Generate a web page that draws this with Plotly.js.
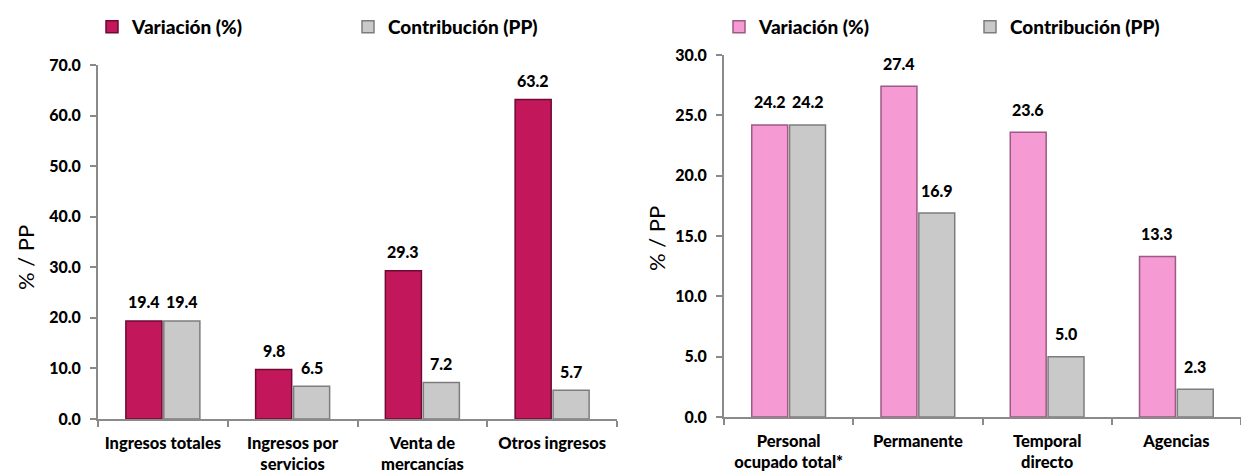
<!DOCTYPE html>
<html>
<head>
<meta charset="utf-8">
<script src="https://cdn.plot.ly/plotly-3.0.1.min.js"></script>
<style>
  html, body { margin:0; padding:0; background:#fff; }
  #chart { width:1241px; height:473px; }
</style>
</head>
<body>
<div id="chart"></div>
<script>
(function(){
  'use strict';

  // left panel: ingresos
  const ingresosCats = ['Ingresos totales', 'Ingresos por<br>servicios', 'Venta de<br>mercancías', 'Otros ingresos'];
  const ingresosVariacion = [19.4, 9.8, 29.3, 63.2];
  const ingresosContribucion = [19.4, 6.5, 7.2, 5.7];
  const ingresosTicks = [0, 10, 20, 30, 40, 50, 60, 70];

  // right panel: personal ocupado
  const personalCats = ['Personal<br>ocupado total*', 'Permanente', 'Temporal<br>directo', 'Agencias'];
  const personalVariacion = [24.2, 27.4, 23.6, 13.3];
  const personalContribucion = [24.2, 16.9, 5.0, 2.3];
  const personalTicks = [0, 5, 10, 15, 20, 25, 30];

  const seriesNames = ['Variación (%)', 'Contribución (PP)'];

  const FONT = 'Lato, "Open Sans", sans-serif';
  const AXIS_GREY = '#8a8a8a';

  function bar(name, cats, vals, xa, ya, color, line, legend){
    return {
      type:'bar', name, x:cats, y:vals, xaxis:xa, yaxis:ya,
      marker:{ color, line:{ color:line, width:1.5 } },
      legend, hoverinfo:'x+y'
    };
  }

  const traces = [
    bar(seriesNames[0], ingresosCats, ingresosVariacion, 'x', 'y', '#c2185b', '#6e0a33', 'legend'),
    bar(seriesNames[1], ingresosCats, ingresosContribucion, 'x', 'y', '#c9c9c9', '#7d7d7d', 'legend'),
    bar(seriesNames[0], personalCats, personalVariacion, 'x2', 'y2', '#f59ad2', '#9c5a84', 'legend2'),
    bar(seriesNames[1], personalCats, personalContribucion, 'x2', 'y2', '#c9c9c9', '#7d7d7d', 'legend2')
  ];

  // value labels above each bar
  const annotations = [];
  function labels(cats, vals, xref, yref, dx, dy){
    cats.forEach((c, i) => {
      annotations.push({
        x:c, y:vals[i], xref, yref, text:vals[i].toFixed(1), showarrow:false,
        xshift:dx, yshift:dy, yanchor:'middle',
        font:{ family:FONT, size:16, color:'#000', weight:900 }
      });
    });
  }
  labels(ingresosCats, ingresosVariacion, 'x', 'y', -19, 19);
  labels(ingresosCats, ingresosContribucion, 'x', 'y', 19, 19);
  labels(personalCats, personalVariacion, 'x2', 'y2', -19, 23);
  labels(personalCats, personalContribucion, 'x2', 'y2', 19, 23);

  // y axis titles
  annotations.push({ x:25/1241, y:1-258/473, xref:'paper', yref:'paper', text:'% / PP', textangle:-90,
    xanchor:'center', yanchor:'middle', showarrow:false, font:{ family:FONT, size:22, color:'#000' } });
  annotations.push({ x:657/1241, y:1-239/473, xref:'paper', yref:'paper', text:'% / PP', textangle:-90,
    xanchor:'center', yanchor:'middle', showarrow:false, font:{ family:FONT, size:22, color:'#000' } });

  const tickFont = { family:FONT, size:16, color:'#000', weight:900 };
  const catFont = { family:FONT, size:16.5, color:'#000', weight:900 };

  function yAxis(domain, ticks, anchor){
    return {
      domain, anchor, range:[0, ticks[ticks.length-1]], tickmode:'array', tickvals:ticks,
      ticktext:ticks.map(v => v.toFixed(1)), showgrid:false, zeroline:false,
      showline:true, linecolor:AXIS_GREY, linewidth:2, ticks:'outside', ticklen:6,
      tickcolor:AXIS_GREY, tickwidth:2, tickfont:tickFont, ticklabelstandoff:6, fixedrange:true
    };
  }
  function xAxis(domain, anchor){
    return {
      domain, anchor, type:'category', showgrid:false, zeroline:false, showline:true,
      linecolor:AXIS_GREY, linewidth:2, ticks:'outside', tickson:'boundaries', ticklen:6,
      tickcolor:AXIS_GREY, tickwidth:2, tickfont:catFont, tickangle:0, ticklabelstandoff:8,
      fixedrange:true
    };
  }

  const legendFont = { family:FONT, size:19, color:'#000', weight:900 };

  const layout = {
    width:1241, height:473,
    margin:{ l:0, r:0, t:0, b:0 },
    paper_bgcolor:'#fff', plot_bgcolor:'#fff',
    barmode:'group', bargap:0.415, bargroupgap:0.05,
    font:{ family:FONT, color:'#000' },
    xaxis:xAxis([98/1241, 617/1241], 'y'),
    yaxis:yAxis([54/473, 408/473], ingresosTicks, 'x'),
    xaxis2:xAxis([724/1241, 1], 'y2'),
    yaxis2:yAxis([56/473, 418/473], personalTicks, 'x2'),
    legend:{ orientation:'h', x:92/1241, y:1-27/473, xanchor:'left', yanchor:'middle',
      font:legendFont, entrywidth:211, entrywidthmode:'pixels', bgcolor:'rgba(0,0,0,0)' },
    legend2:{ orientation:'h', x:719/1241, y:1-27/473, xanchor:'left', yanchor:'middle',
      font:legendFont, entrywidth:206, entrywidthmode:'pixels', bgcolor:'rgba(0,0,0,0)' },
    annotations
  };

  Plotly.newPlot('chart', traces, layout, { displayModeBar:false, staticPlot:true });
})();
</script>
</body>
</html>
